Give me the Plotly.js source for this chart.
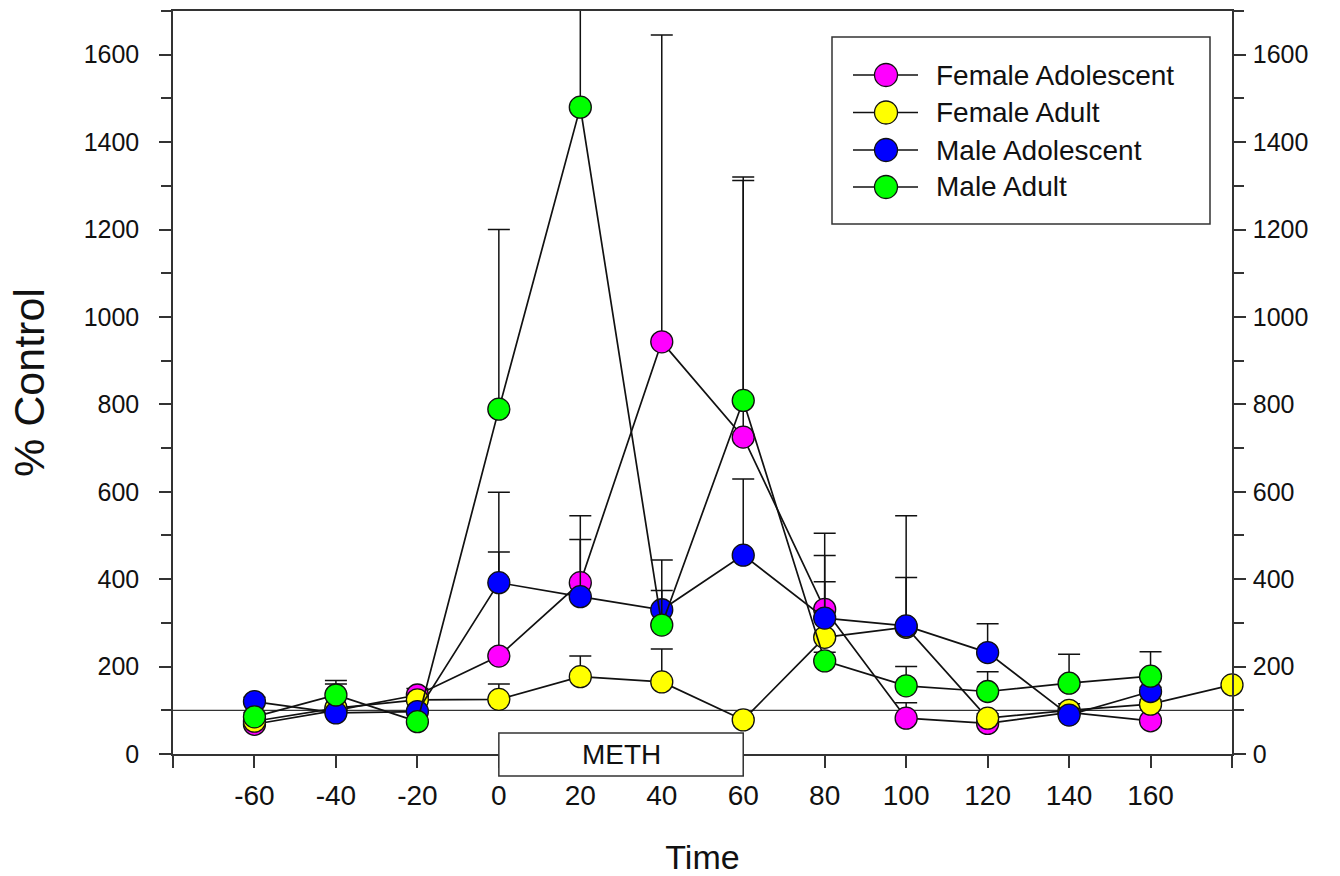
<!DOCTYPE html>
<html><head><meta charset="utf-8">
<script src="https://cdn.plot.ly/plotly-3.0.1.min.js"></script>
<style>html,body{margin:0;padding:0;background:#fff}#chart{width:1340px;height:876px}</style>
</head><body><div id="chart"></div>
<script>
// ---- data ----
const times = [-60, -40, -20, 0, 20, 40, 60, 80, 100, 120, 140, 160, 180];
const seriesNames = ['Female Adolescent', 'Female Adult', 'Male Adolescent', 'Male Adult'];
const seriesColors = ['#ff00ff', '#ffff00', '#0000ff', '#00ff00'];

const femaleAdolescent    = [68, 100, 135, 224, 392, 943, 725, 331, 82, 70, 95, 76, null];
const femaleAdolescentErr = [5, 5, 15, 238, 153, 702, 587, 174, 35, 5, 5, 5, null];

const femaleAdult    = [75, 105, 124, 125, 177, 165, 78, 267, 290, 82, 100, 114, 158];
const femaleAdultErr = [5, 55, 5, 35, 47, 75, 5, 127, 255, 10, 15, 10, 0];

const maleAdolescent    = [120, 94, 97, 392, 360, 330, 455, 311, 293, 232, 89, 143, null];
const maleAdolescentErr = [10, 5, 5, 207, 131, 114, 174, 143, 111, 66, 15, 10, null];

const maleAdult    = [85, 135, 74, 789, 1480, 295, 809, 213, 156, 143, 162, 178, null];
const maleAdultErr = [10, 33, 5, 411, 300, 79, 511, 20, 44, 45, 66, 56, null];

const xTickVals = [-80, -60, -40, -20, 0, 20, 40, 60, 80, 100, 120, 140, 160, 180];
const xTickText = ['', '-60', '-40', '-20', '0', '20', '40', '60', '80', '100', '120', '140', '160', ''];
const yTickVals = [0, 200, 400, 600, 800, 1000, 1200, 1400, 1600];
const yTickText = ['0', '200', '400', '600', '800', '1000', '1200', '1400', '1600'];

const treatmentLabel = 'METH';
const treatmentStart = 0;
const treatmentEnd = 60;
const baselineValue = 100;
const xRange = [-80, 180];
const yRange = [0, 1700];

// ---- chart ----
const FONT = 'Liberation Sans, Arial, Helvetica, sans-serif';
const W = 1340, H = 876;
const M = {l: 173, r: 108, t: 11, b: 122};
const PW = W - M.l - M.r, PH = H - M.t - M.b;
const px2x = p => (p - M.l) / PW;        // page px -> paper x
const py2y = p => (H - M.b - p) / PH;    // page px -> paper y

const values = [femaleAdolescent, femaleAdult, maleAdolescent, maleAdult];
const errs = [femaleAdolescentErr, femaleAdultErr, maleAdolescentErr, maleAdultErr];

const traces = seriesNames.map((name, i) => ({
  type: 'scatter',
  mode: 'lines+markers',
  name: name,
  x: times,
  y: values[i],
  yaxis: i === seriesNames.length - 1 ? 'y2' : 'y',
  showlegend: false,
  cliponaxis: false,
  line: {color: '#111', width: 1.7},
  marker: {size: 22, color: seriesColors[i], line: {color: '#111', width: 1.3}},
  error_y: {
    type: 'data', symmetric: false,
    array: errs[i],
    arrayminus: errs[i].map(v => v == null ? null : 0),
    color: '#111', thickness: 1.5, width: 11
  },
  hoverinfo: 'x+y+name'
}));

const yCommon = {
  range: yRange,
  tickmode: 'array',
  tickvals: yTickVals,
  ticktext: yTickText,
  ticks: 'outside',
  ticklen: 12,
  tickwidth: 1.5,
  tickcolor: '#333',
  minor: {tickmode: 'linear', tick0: 0, dtick: 100, ticks: 'outside', ticklen: 10, tickwidth: 1.5, tickcolor: '#333'},
  showline: true,
  linecolor: '#333',
  linewidth: 1.5,
  showgrid: false,
  zeroline: false,
  fixedrange: true,
  tickfont: {family: FONT, size: 25, color: '#111'}
};

// custom legend (box, line samples, markers, labels)
const legendBox = {left: 832, right: 1210, top: 37, bottom: 224};
const legendRowY = [75, 112.5, 150, 187];
const legendLine = {x0: 853, x1: 918, marker: 886, text: 934};

const shapes = [
  {type: 'line', xref: 'x', yref: 'y', x0: xRange[0], x1: xRange[1], y0: baselineValue, y1: baselineValue,
   line: {color: '#333', width: 1.3}, layer: 'below'},
  {type: 'rect', xref: 'x', yref: 'paper', x0: treatmentStart, x1: treatmentEnd, y0: py2y(776), y1: py2y(733),
   fillcolor: '#fff', line: {color: '#333', width: 1.5}, layer: 'above'},
  {type: 'rect', xref: 'paper', yref: 'paper', x0: px2x(legendBox.left), x1: px2x(legendBox.right),
   y0: py2y(legendBox.bottom), y1: py2y(legendBox.top), fillcolor: '#fff', line: {color: '#333', width: 1.5}, layer: 'above'}
];
const annotations = [
  {text: treatmentLabel, xref: 'x', yref: 'paper', x: (treatmentStart + treatmentEnd) / 2, y: py2y(755),
   showarrow: false, font: {family: FONT, size: 28, color: '#111'}, xanchor: 'center', yanchor: 'middle'}
];
seriesNames.forEach((name, i) => {
  const yy = py2y(legendRowY[i]);
  shapes.push({type: 'line', xref: 'paper', yref: 'paper', x0: px2x(legendLine.x0), x1: px2x(legendLine.x1),
    y0: yy, y1: yy, line: {color: '#111', width: 1.7}, layer: 'above'});
  shapes.push({type: 'circle', xref: 'paper', yref: 'paper', xsizemode: 'pixel', ysizemode: 'pixel',
    xanchor: px2x(legendLine.marker), yanchor: yy, x0: -11.5, x1: 11.5, y0: -11.5, y1: 11.5,
    fillcolor: seriesColors[i], line: {color: '#111', width: 1.3}, layer: 'above'});
  annotations.push({text: name, xref: 'paper', yref: 'paper', x: px2x(legendLine.text), y: yy,
    xanchor: 'left', yanchor: 'middle', showarrow: false, font: {family: FONT, size: 28, color: '#111'}});
});

const layout = {
  width: W,
  height: H,
  margin: M,
  paper_bgcolor: '#fff',
  plot_bgcolor: '#fff',
  showlegend: false,
  xaxis: {
    range: xRange,
    tickmode: 'array',
    tickvals: xTickVals,
    ticktext: xTickText,
    ticks: 'outside',
    ticklen: 12,
    tickwidth: 1.5,
    tickcolor: '#333',
    showline: true,
    mirror: true,
    linecolor: '#333',
    linewidth: 1.5,
    showgrid: false,
    zeroline: false,
    fixedrange: true,
    ticklabelstandoff: 4,
    tickfont: {family: FONT, size: 28, color: '#111'},
    title: {text: 'Time', font: {family: FONT, size: 34, color: '#111'}, standoff: 36}
  },
  yaxis: Object.assign({}, yCommon, {
    side: 'left',
    ticklabelstandoff: 15,
    title: {text: '% Control', font: {family: FONT, size: 43, color: '#111'}, standoff: 26}
  }),
  yaxis2: Object.assign({}, yCommon, {
    overlaying: 'y',
    side: 'right',
    anchor: 'x',
    ticklabelstandoff: 2
  }),
  shapes: shapes,
  annotations: annotations
};

Plotly.newPlot('chart', traces, layout, {displayModeBar: false});
</script>
</body></html>
